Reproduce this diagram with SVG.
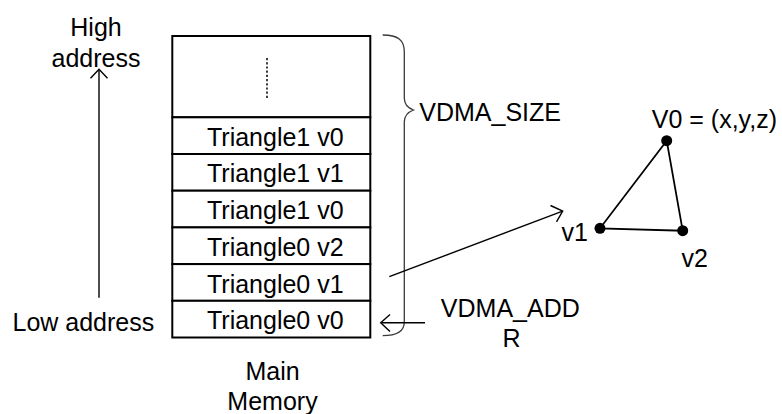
<svg xmlns="http://www.w3.org/2000/svg" width="782" height="414" viewBox="0 0 782 414">
  <defs>
    <style>
      text { font-family: "Liberation Sans", Arial, sans-serif; font-size: 25px; fill: #000; }
      .mid { text-anchor: middle; }
      .end { text-anchor: end; }
      .cell { fill: #fff; stroke: #000; stroke-width: 2; }
      .wire { fill: none; stroke: #000; stroke-width: 1.4; }
      .head { fill: none; stroke: #000; stroke-width: 1.4; stroke-linejoin: miter; }
      .brace { fill: none; stroke: #3a3a3a; stroke-width: 1.3; }
      .edge { fill: none; stroke: #000; stroke-width: 1.8; }
      .dot { fill: #000; }
    </style>
  </defs>

  <!-- address direction labels -->
  <g id="high-address">
    <text class="mid" x="96" y="36">High</text>
    <text class="mid" x="96" y="66.5">address</text>
  </g>
  <g id="low-address">
    <text x="12.5" y="331">Low address</text>
  </g>

  <!-- main memory stack -->
  <g id="memory-free">
    <rect class="cell" x="172.3" y="36" width="198" height="81.3"/>
    <line x1="267" y1="58" x2="267" y2="100" stroke="#000" stroke-width="1.5" stroke-dasharray="2.2 2"/>
  </g>
  <g id="row-t1-v0-top">
    <rect class="cell" x="172.3" y="117.3" width="198" height="36.7"/>
    <text class="mid" x="275.3" y="145.7">Triangle1 v0</text>
  </g>
  <g id="row-t1-v1">
    <rect class="cell" x="172.3" y="154" width="198" height="36.7"/>
    <text class="mid" x="275.3" y="182.4">Triangle1 v1</text>
  </g>
  <g id="row-t1-v0">
    <rect class="cell" x="172.3" y="190.7" width="198" height="36.7"/>
    <text class="mid" x="275.3" y="219.1">Triangle1 v0</text>
  </g>
  <g id="row-t0-v2">
    <rect class="cell" x="172.3" y="227.4" width="198" height="36.7"/>
    <text class="mid" x="275.3" y="255.8">Triangle0 v2</text>
  </g>
  <g id="row-t0-v1">
    <rect class="cell" x="172.3" y="264.1" width="198" height="36.7"/>
    <text class="mid" x="275.3" y="292.5">Triangle0 v1</text>
  </g>
  <g id="row-t0-v0">
    <rect class="cell" x="172.3" y="300.8" width="198" height="36.7"/>
    <text class="mid" x="275.3" y="329.2">Triangle0 v0</text>
  </g>
  <g id="memory-caption">
    <text class="mid" x="272.5" y="380">Main</text>
    <text class="mid" x="272.5" y="410">Memory</text>
  </g>

  <!-- size brace and labels -->
  <g id="vdma-size">
    <path class="brace" d="M382.7,35 C398,35 404.3,40 404.3,52 L404.3,98 C404.3,104 408,108 413.5,110 C408,112 404.3,116 404.3,122 L404.3,322 C404.3,331 398,335.7 382.7,335.7"/>
    <text x="419.3" y="120.5">VDMA_SIZE</text>
  </g>
  <g id="vdma-addr">
    <text class="mid" x="510.3" y="316.7">VDMA_ADD</text>
    <text class="mid" x="511.5" y="347">R</text>
  </g>

  <!-- vertex triangle -->
  <g id="triangle">
    <polygon class="edge" points="666.7,140.7 600,228.3 682.7,230.7"/>
    <circle class="dot" cx="666.7" cy="140.7" r="5.5"/>
    <circle class="dot" cx="600" cy="228.3" r="5.5"/>
    <circle class="dot" cx="682.7" cy="230.7" r="5.5"/>
    <text class="end" x="777" y="128">V0 = (x,y,z)</text>
    <text class="end" x="588" y="240.5">v1</text>
    <text x="681.5" y="266.7">v2</text>
  </g>

  <!-- connectors -->
  <g id="connectors">
    <line class="wire" x1="99" y1="297.7" x2="99" y2="70"/>
    <polyline class="head" points="90.5,78.3 99,69.3 107.5,78.3"/>

    <line class="wire" x1="425" y1="322.7" x2="381.5" y2="322.7"/>
    <polyline class="head" points="390,314.5 380.7,322.7 390,331.5"/>

    <line class="wire" x1="389.3" y1="276.7" x2="562" y2="211.3"/>
    <polyline class="head" points="550.5,205.5 562.7,211 556.5,221.8"/>
  </g>
</svg>
